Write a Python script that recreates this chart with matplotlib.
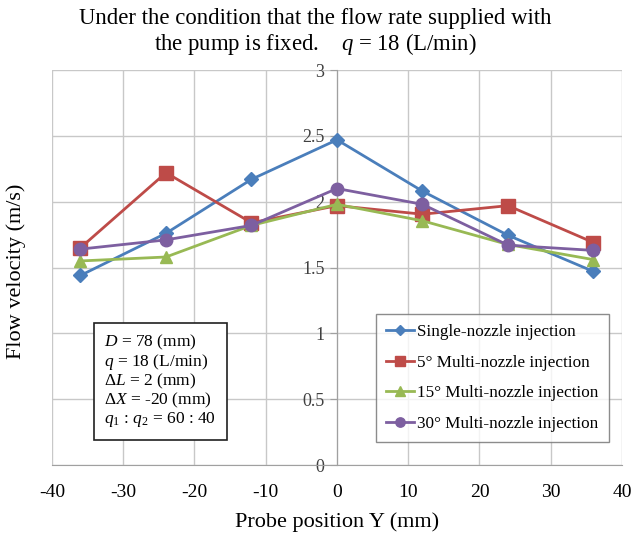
import matplotlib
matplotlib.use("Agg")
import matplotlib.pyplot as plt

plt.rcParams['font.family'] = ['Liberation Serif', 'DejaVu Serif']
plt.rcParams['mathtext.fontset'] = 'custom'
plt.rcParams['mathtext.rm'] = 'Liberation Serif'
plt.rcParams['mathtext.it'] = 'Liberation Serif:italic'
plt.rcParams['axes.unicode_minus'] = False

positions = [-36, -24, -12, 0, 12, 24, 36]
single = [1.44, 1.76, 2.17, 2.47, 2.08, 1.745, 1.47]
multi5 = [1.65, 2.22, 1.84, 1.97, 1.905, 1.97, 1.69]
multi15 = [1.55, 1.58, 1.82, 1.98, 1.855, 1.675, 1.56]
multi30 = [1.64, 1.71, 1.82, 2.10, 1.98, 1.67, 1.63]

labels = ["Single-nozzle injection", "5° Multi-nozzle injection",
          "15° Multi-nozzle injection", "30° Multi-nozzle injection"]
xticks = [-40, -30, -20, -10, 0, 10, 20, 30, 40]
yticks = [0, 0.5, 1, 1.5, 2, 2.5, 3]
ytick_labels = ["0", "0.5", "1", "1.5", "2", "2.5", "3"]

fig = plt.figure(figsize=(6.31, 5.37), dpi=100)
ax = fig.add_axes([0.0824, 0.134, 0.9033, 0.7356])

series = [single, multi5, multi15, multi30]
colors = ["#4A7EBB", "#BE4B48", "#98B954", "#7D5FA0"]
markers = ["D", "s", "^", "o"]
msizes = [7, 10, 9, 9]
for vals, c, m, ms, lab in zip(series, colors, markers, msizes, labels):
    ax.plot(positions, vals, color=c, marker=m, markersize=ms, lw=2,
            label=lab, zorder=3)

ax.set_xlim(-40, 40)
ax.set_ylim(0, 3)
ax.set_xticks(xticks)
ax.set_yticks(yticks)
ax.set_yticklabels(ytick_labels)
ax.grid(True, color="#C8C8C8", lw=1)
ax.set_axisbelow(True)
for s in ["top", "right"]:
    ax.spines[s].set_visible(False)
ax.spines["left"].set_position(("data", 0))
ax.spines["left"].set_color("#A0A0A0")
ax.spines["bottom"].set_color("#A0A0A0")
ax.tick_params(axis="y", length=5, color="#A0A0A0", labelsize=13, pad=4, labelcolor="#404040")
ax.tick_params(axis="x", length=0, labelsize=14, pad=14)

ax.set_xlabel("Probe position Y (mm)", fontsize=16, labelpad=8)
fig.text(0.025, 0.495, "Flow velocity (m/s)", rotation=90, fontsize=16,
         ha="center", va="center")

fig.text(0.5, 0.966, "Under the condition that the flow rate supplied with",
         fontsize=16.4, ha="center", va="center")
fig.text(0.5, 0.918, "the pump is fixed.    $q$ = 18 (L/min)",
         fontsize=16.4, ha="center", va="center")

leg = ax.legend(loc="lower right", bbox_to_anchor=(0.977, 0.058), fontsize=12.3,
                frameon=True, fancybox=False, edgecolor="#707070",
                labelspacing=0.85, handlelength=1.6, handletextpad=0.2,
                borderpad=0.6, markerscale=0.75, borderaxespad=0)
leg.get_frame().set_linewidth(1)

info = ("$D$ = 78 (mm)\n$q$ = 18 (L/min)\n$\\mathit{\\Delta L}$ = 2 (mm)\n"
        "$\\mathit{\\Delta X}$ = -20 (mm)\n$q_1$ : $q_2$ = 60 : 40")
ax.text(0.092, 0.213, info, transform=ax.transAxes, fontsize=12.5,
        ha="left", va="center", linespacing=1.0,
        bbox=dict(boxstyle="square,pad=0.6", fc="white", ec="#202020", lw=1.2))

fig.savefig("out.png", dpi=100)
